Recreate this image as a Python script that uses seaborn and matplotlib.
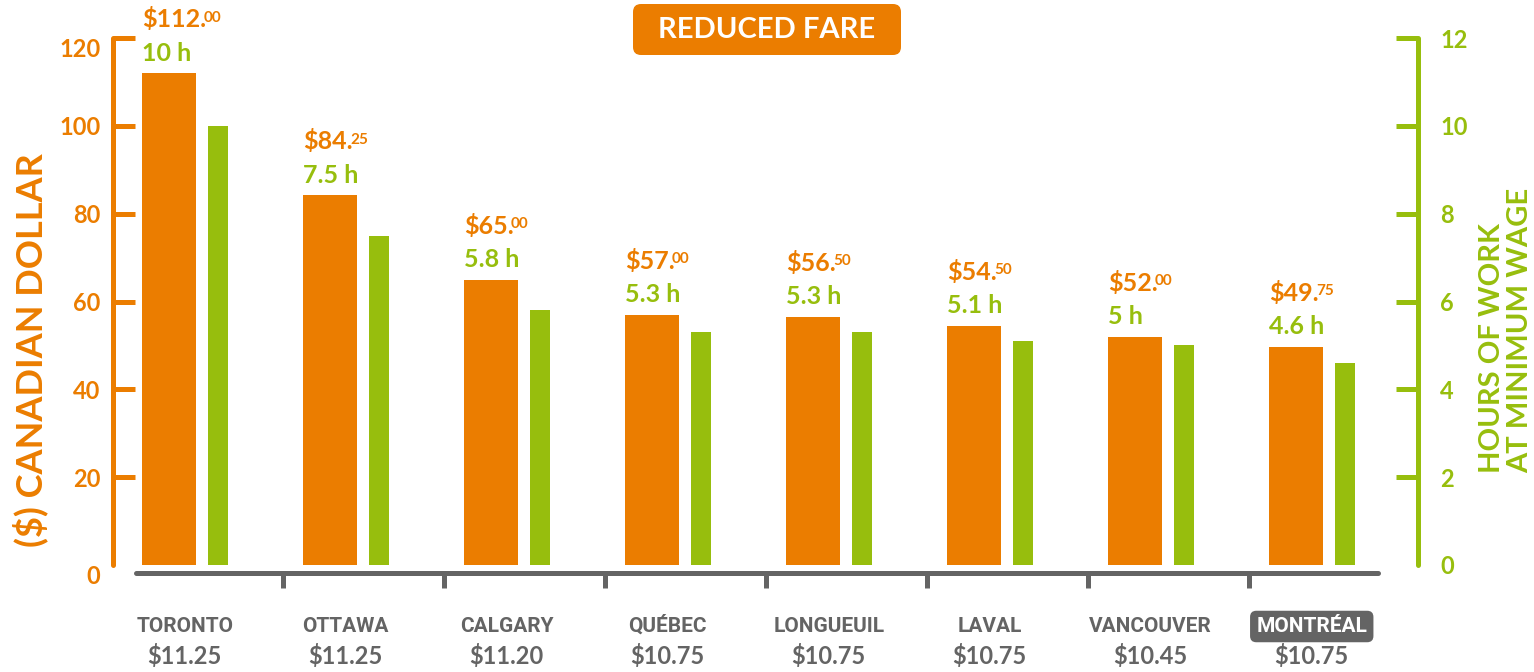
import numpy as np
import pandas as pd
import seaborn as sns
import matplotlib.pyplot as plt
from matplotlib.patches import FancyBboxPatch
from matplotlib.transforms import blended_transform_factory

# Datos del gráfico
ciudades = ['TORONTO', 'OTTAWA', 'CALGARY', 'QUÉBEC', 'LONGUEUIL', 'LAVAL', 'VANCOUVER', 'MONTRÉAL']
salario_min = ['$11.25', '$11.25', '$11.20', '$10.75', '$10.75', '$10.75', '$10.45', '$10.75']
tarifa = [112.00, 84.25, 65.00, 57.00, 56.50, 54.50, 52.00, 49.75]
horas = [10, 7.5, 5.8, 5.3, 5.3, 5.1, 5, 4.6]
horas_txt = ['10 h', '7.5 h', '5.8 h', '5.3 h', '5.3 h', '5.1 h', '5 h', '4.6 h']

naranja = '#EB7D00'
verde = '#97BE0D'
gris = '#646464'

sns.set_style('white')
plt.rcParams['font.family'] = ['Lato', 'DejaVu Sans']

pos = np.arange(len(ciudades))
df = pd.DataFrame({'pos': pos, 'tarifa': tarifa, 'horas': horas})
df['x_tarifa'] = df['pos'] - 0.208
df['x_horas'] = df['pos'] + 0.096

fig = plt.figure(figsize=(15.34, 6.72), dpi=100)
ax = fig.add_axes([113/1534, 107/672, 1305/1534, 527/672])
ax2 = ax.twinx()

sns.barplot(data=df, x='x_tarifa', y='tarifa', native_scale=True, orient='x', width=0.335,
            color=naranja, saturation=1, linewidth=0, ax=ax)
sns.barplot(data=df, x='x_horas', y='horas', native_scale=True, orient='x', width=0.124,
            color=verde, saturation=1, linewidth=0, ax=ax2)

ax.set_ylim(0, 120)
ax2.set_ylim(0, 12)
ax.set_xlim(-0.556, 7.55)
ax.set_xlabel('')
ax.set_ylabel('')
ax2.set_xlabel('')
ax2.set_ylabel('')

# Ejes
for s in ['top', 'right']:
    ax.spines[s].set_visible(False)
for s in ['top', 'left', 'bottom']:
    ax2.spines[s].set_visible(False)
ax.spines['left'].set_color(naranja)
ax.spines['left'].set_linewidth(3.6)
ax.spines['left'].set_capstyle('round')
ax2.spines['right'].set_color(verde)
ax2.spines['right'].set_linewidth(3.6)
ax2.spines['right'].set_capstyle('round')
ax.spines['bottom'].set_color(gris)
ax.spines['bottom'].set_linewidth(3.6)
ax.spines['bottom'].set_position(('outward', 6))
ax.spines['bottom'].set_bounds(-0.413, 7.30)
ax.spines['bottom'].set_capstyle('round')

ax.set_xticks(pos[:-1] + 0.5)
ax.set_xticklabels([])
ax.tick_params(axis='x', bottom=True, direction='out', length=11, width=3.6, color=gris)

ax.set_yticks(range(0, 121, 20))
ax.set_yticklabels([str(v) for v in range(0, 121, 20)], fontsize=17, fontweight='bold', color=naranja)
ax.tick_params(axis='y', left=True, direction='in', length=16, width=3.6, color=naranja, pad=9)
ax2.set_yticks(range(0, 13, 2))
ax2.set_yticklabels([str(v) for v in range(0, 13, 2)], fontsize=17, fontweight='bold', color=verde)
ax2.tick_params(axis='y', right=True, direction='in', length=16, width=3.6, color=verde, pad=16)
ax.yaxis.get_major_ticks()[0].tick1line.set_visible(False)
ax2.yaxis.get_major_ticks()[0].tick2line.set_visible(False)
for t in [ax.yaxis.get_major_ticks()[0], ax.yaxis.get_major_ticks()[-1]]:
    t.label1.set_va('top')

# Etiquetas de valores
for i in range(len(ciudades)):
    izq = i - 0.208 - 0.335 / 2
    entero, dec = f'{tarifa[i]:.2f}'.split('.')
    t1 = ax.annotate(f'${entero}.', xy=(izq, tarifa[i]), xytext=(0, 33), textcoords='offset points',
                     ha='left', va='baseline', fontsize=18, fontweight='bold', color=naranja)
    ax.annotate(dec, xy=(1, 0.86), xycoords=t1, xytext=(-2, 0), textcoords='offset points',
                ha='left', va='top', fontsize=11, fontweight='bold', color=naranja)
    ax.annotate(horas_txt[i], xy=(izq, tarifa[i]), xytext=(0, 9), textcoords='offset points',
                ha='left', va='baseline', fontsize=18, fontweight='bold', color=verde)

# Etiquetas de categorías
trans = blended_transform_factory(ax.transData, fig.transFigure)
for i, (c, w) in enumerate(zip(ciudades, salario_min)):
    if c == 'MONTRÉAL':
        ax.text(i - 0.11, 1 - 632/672, c, transform=trans, ha='center', va='baseline', fontsize=15,
                fontweight='bold', color='white', family=['Roboto', 'DejaVu Sans'],
                bbox=dict(boxstyle='round,pad=0.3,rounding_size=0.3', fc=gris, ec='none'))
    else:
        ax.text(i - 0.11, 1 - 632/672, c, transform=trans, ha='center', va='baseline', fontsize=15,
                fontweight='bold', color=gris, family=['Roboto', 'DejaVu Sans'])
    ax.text(i - 0.11, 1 - 664/672, w, transform=trans, ha='center', va='baseline', fontsize=17,
            fontweight='bold', color=gris)

# Títulos de ejes
fig.text(30/1534, 1 - 350/672, '($) CANADIAN DOLLAR', rotation=90, ha='center', va='center',
         fontsize=26, fontweight='bold', color=naranja)
fig.text(1506/1534, 1 - 330/672, 'HOURS OF WORK\nAT MINIMUM WAGE', rotation=90, ha='center',
         va='center', multialignment='left', linespacing=1.1, fontsize=21, fontweight='bold',
         color=verde)

# Recuadro de título
fig.patches.append(FancyBboxPatch((6.33, 6.17), 2.68, 0.51, boxstyle='round,pad=0,rounding_size=0.08',
                                  fc=naranja, ec='none', transform=fig.dpi_scale_trans, figure=fig))
fig.text(767/1534, 1 - 30/672, 'REDUCED FARE', ha='center', va='center', fontsize=21,
         fontweight='bold', color='white')

plt.savefig('out.png', dpi=100)
